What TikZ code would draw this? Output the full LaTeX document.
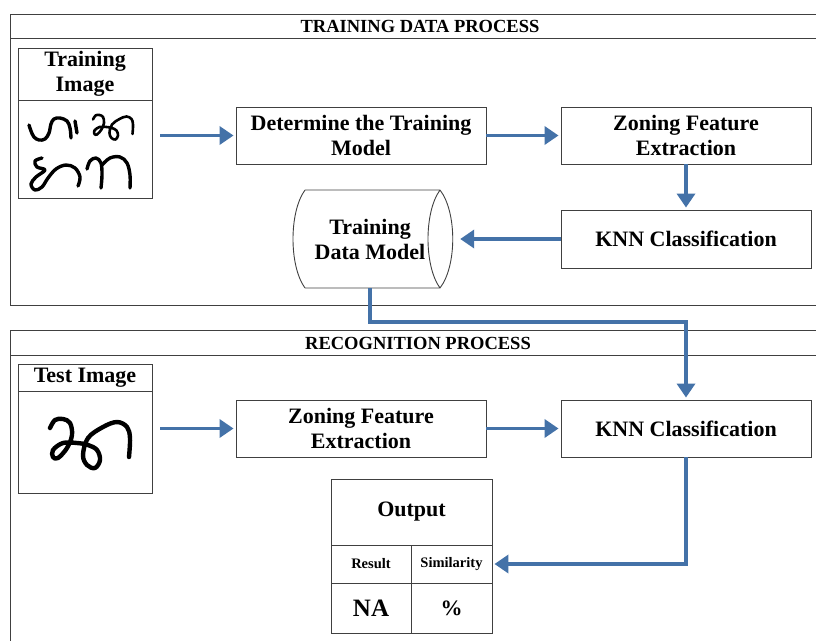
\documentclass[tikz,border=0pt]{standalone}
\usepackage{fontspec}
\setmainfont{Liberation Serif}
\usepackage{xcolor}
\definecolor{flowblue}{HTML}{4472A8}
\usetikzlibrary{calc}
\usetikzlibrary{arrows.meta}
\usetikzlibrary{positioning}

\begin{document}
\begin{tikzpicture}[
            x=1pt, y=-1pt,
            >={Triangle[width=18pt,length=14pt]},
            panel/.style={draw=black!75, line width=1pt},
            title/.style={font=\fontsize{18.5}{21}\selectfont\bfseries},
            block/.style={draw=black!75, line width=0.9pt, rectangle, minimum height=57pt, minimum width=250pt, align=center, font=\fontsize{22}{25}\selectfont\bfseries},
            imgbox/.style={draw=black!75, line width=0.9pt, rectangle, minimum width=134pt, inner sep=0pt, align=center, font=\fontsize{22}{25}\selectfont\bfseries},
            cell/.style={draw=black!75, line width=0.9pt, rectangle, inner sep=0pt, font=\bfseries},
            flow/.style={->, draw=flowblue, line width=3.8pt, shorten >=2pt},
            inkline/.style={line width=4.4pt, line cap=round, line join=round},
        ]
            \useasboundingbox (0,0) rectangle (816,640);

            % training data process
            \draw [panel] (10,14) rectangle (830,305);
            \draw [panel] (10,38) -- (830,38);
            \node [title] (trtitle) at (420,26) {TRAINING DATA PROCESS};

            \node [imgbox, minimum height=52pt] (trhead) at (85,74) {Training\\Image};
            \node [imgbox, minimum height=98pt] (trpic) at (85,149) {};
            \node [block] (det)   at (361,135.5) {Determine the Training\\Model};
            \node [block] (zone1) at (686,135.5) {Zoning Feature\\Extraction};
            \node [block, minimum height=58pt] (knn1) at (686,239) {KNN Classification};
            \node [minimum width=176pt, minimum height=98pt, align=center,
                   font=\fontsize{22}{25}\selectfont\bfseries] (tdm) at (370,239) {Training\\Data Model};
            % cylinder outline
            \draw [black!75, line width=0.9pt] (305,190) -- (440,190) (305,288) -- (440,288)
                (305,190) .. controls (289,212) and (289,266) .. (305,288)
                (440,190) .. controls (457,212) and (457,266) .. (440,288)
                (440,190) .. controls (424,212) and (424,266) .. (440,288);

            % handwritten samples
            \draw [inkline, line width=3.4pt] plot [smooth, tension=0.6] coordinates
                {(29,125) (31,131) (34,137) (39,140) (45,139) (49,133) (51,124) (54,119) (60,118) (67,121) (70,128) (71,138)};
            \draw [inkline, line width=3.4pt] (75,121) -- (77,133);
            \begin{scope}[shift={(93,115)}, scale=0.5]
                \draw [inkline, line width=2.6pt] plot [smooth, tension=0.6] coordinates
                    {(0,9) (5,1) (13,0) (20,4) (22,16) (17,29) (8,39) (3,38) (3,31) (13,24) (27,24) (38,26) (47,31) (50,41) (45,49) (37,46) (33,36) (38,19) (53,8) (67,3) (77,8) (80,19) (79,38)};
            \end{scope}
            \draw [inkline, line width=3.4pt] plot [smooth, tension=0.6] coordinates
                {(42,158) (35,161) (37,167) (45,170) (36,177) (31,184) (35,190) (42,187) (48,178) (56,169) (66,165) (75,168) (80,177) (78,186)};
            \draw [inkline, line width=3.4pt] plot [smooth, tension=0.6] coordinates
                {(87,169) (90,161) (96,158) (101,163) (102,175) (101,188)};
            \draw [inkline, line width=3.4pt] plot [smooth, tension=0.6] coordinates
                {(102,165) (110,158) (120,157) (127,163) (130,175) (130,188)};

            \draw [flow] ([xshift=8pt]det.west -| trpic.east) -- (det.west);
            \draw [flow] (det.east) -- (zone1.west);
            \draw [flow] (zone1.south) -- (knn1.north);
            \draw [flow] (knn1.west) -- (tdm.east);

            % recognition process
            \draw [panel] (10,330) rectangle (830,660);
            \draw [panel] (10,355) -- (830,355);
            \node [title] (rectitle) at (418,343) {RECOGNITION PROCESS};

            \node [imgbox, minimum height=27pt] (tehead) at (85,377.5) {Test Image};
            \node [imgbox, minimum height=102pt] (tepic) at (85,442) {};
            \begin{scope}[shift={(50,419)}]
                \draw [inkline] plot [smooth, tension=0.6] coordinates
                    {(0,9) (5,1) (13,0) (20,4) (22,16) (17,29) (8,39) (3,38) (3,31) (13,24) (27,24) (38,26) (47,31) (50,41) (45,49) (37,46) (33,36) (38,19) (53,8) (67,3) (77,8) (80,19) (79,38)};
            \end{scope}
            \node [block] (zone2) at (361,428.5) {Zoning Feature\\Extraction};
            \node [block] (knn2)  at (686,428.5) {KNN Classification};

            % output table
            \node [cell, minimum width=161pt, minimum height=66pt, font=\fontsize{22}{25}\selectfont\bfseries] (outhead) at (411.5,512) {Output};
            \node [cell, minimum width=80pt, minimum height=38pt, font=\fontsize{14.5}{17}\selectfont\bfseries] (outres) at (371,564) {Result};
            \node [cell, minimum width=81pt, minimum height=38pt, font=\fontsize{14.5}{17}\selectfont\bfseries] (outsim) at (451.5,564) {Similarity};
            \node [cell, minimum width=80pt, minimum height=50pt, font=\fontsize{25}{28}\selectfont\bfseries] (outna) at (371,608) {NA};
            \node [cell, minimum width=81pt, minimum height=50pt, font=\fontsize{22}{25}\selectfont\bfseries] (outpct) at (451.5,608) {\%};

            \draw [flow] ([xshift=8pt]zone2.west -| tepic.east) -- (zone2.west);
            \draw [flow] (zone2.east) -- (knn2.west);
            \draw [flow] (knn2.south) |- (outsim.east);
            \draw [flow] (tdm.south) -- ++(0,34) -| (knn2.north);
        \end{tikzpicture}
\end{document}
